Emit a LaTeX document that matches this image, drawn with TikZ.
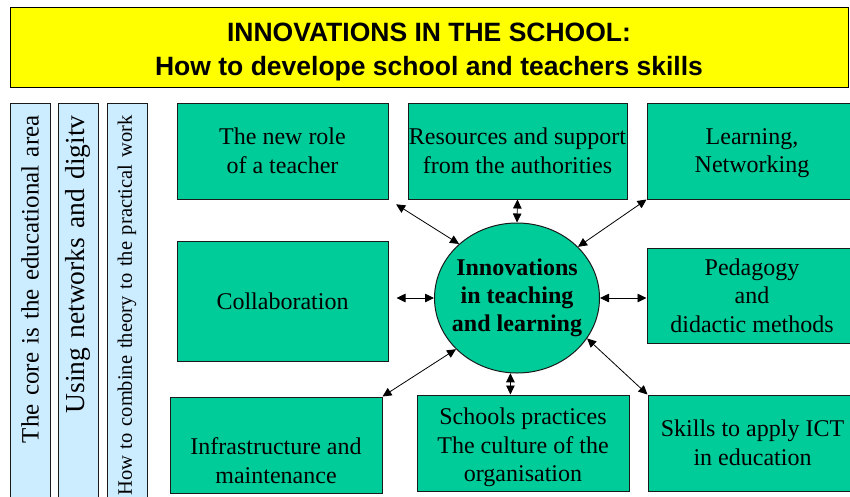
\documentclass[tikz,border=0pt]{standalone}
\usepackage{fontspec}
\setmainfont{Liberation Serif}
\setsansfont{Liberation Sans}
\usetikzlibrary{arrows.meta,shapes.geometric}
\definecolor{leaf}{HTML}{00CC99}
\definecolor{banner}{HTML}{FFFF00}
\definecolor{sky}{HTML}{CCECFF}
\definecolor{edge}{HTML}{1A1A1A}
\tikzset{
  ttlbox/.style={
    draw=black, line width=1pt, fill=banner, minimum width=838pt, minimum height=80pt,
    align=center, inner sep=0pt, font=\sffamily\bfseries\fontsize{26.5}{34}\selectfont},
  strip/.style={
    draw=edge, line width=1pt, fill=sky, rotate=90, anchor=east,
    minimum height=40pt, text width=560pt, inner xsep=12pt, inner ysep=0pt,
    align=right, font=\fontsize{#1}{29}\selectfont},
  strip/.default=24.5,
  tile/.style={
    draw=edge, line width=1pt, fill=leaf, minimum height=96pt,
    align=center, inner sep=0pt, font=\fontsize{24}{28.5}\selectfont},
  hub/.style={
    ellipse, draw=edge, line width=1pt, fill=leaf, minimum width=165pt,
    minimum height=150pt, inner xsep=-7pt, inner ysep=0pt, align=center,
    font=\bfseries\fontsize{24}{28}\selectfont},
  link/.style={{Triangle[length=9pt,width=8.5pt]}-{Triangle[length=9pt,width=8.5pt]},
               draw=black, line width=0.8pt},
}

\begin{document}
\begin{tikzpicture}[x=1pt, y=-1pt]
\useasboundingbox (0,0) rectangle (850,496);
\clip (0,0) rectangle (850,496);

% banner
\node[ttlbox] (title) at (429,47)
  {\rule{0pt}{28pt}INNOVATIONS IN THE SCHOOL:\\How to develope school and teachers skills};

% the three strips on the left
\node[strip=25]   (core)  at (30,103)  {The core is the educational area};
\node[strip=27.5] (nets)  at (78,103)  {Using networks and digitv};
\node[strip=20.5] (combi) at (127,103) {How to combine theory to the practical work};

% =====================================================================
\node[tile, minimum width=211pt] (role)   at (282.5,151) {The new role\\of a teacher};
\node[tile, minimum width=219pt] (res)    at (517.5,151) {Resources and support\\from the authorities};
\node[tile, minimum width=210pt] (learn)  at (752,151)   {\strut Learning,\\Networking};
\node[tile, minimum width=211pt, minimum height=120pt] (collab) at (282.5,301) {Collaboration};
\node[tile, minimum width=210pt, minimum height=95pt]  (ped)    at (752,295.5)
  {Pedagogy\\and\\didactic methods};
\node[tile, minimum width=212pt] (infra)  at (276,445)   {\strut\\Infrastructure and\\maintenance};
\node[tile, minimum width=212pt] (prac)   at (523,443)
  {\rule{0pt}{26pt}Schools practices\\The culture of the\\organisation};
\node[tile, minimum width=209pt] (ict)    at (752.5,443) {Skills to apply ICT\\in education};

\node[hub] (inno) at (517,298) {Innovations\\in teaching\\and learning};

% =====================================================================
\foreach \a/\b in {res.south/inno.north, learn.south west/inno.40,
                   infra.north east/inno.220, inno.330/ict.north west}
  \draw[link] (\a) -- (\b);

\draw[link, shorten <=9pt] (role.south east) -- (inno.137);
\draw[link, shorten <=8pt] (collab.east |- inno.west) -- (inno.west);
\draw[link] (inno.east) -- (inno.east -| ped.west);
\draw[link] (inno.265) -- (inno.265 |- prac.north);

\end{tikzpicture}
\end{document}
